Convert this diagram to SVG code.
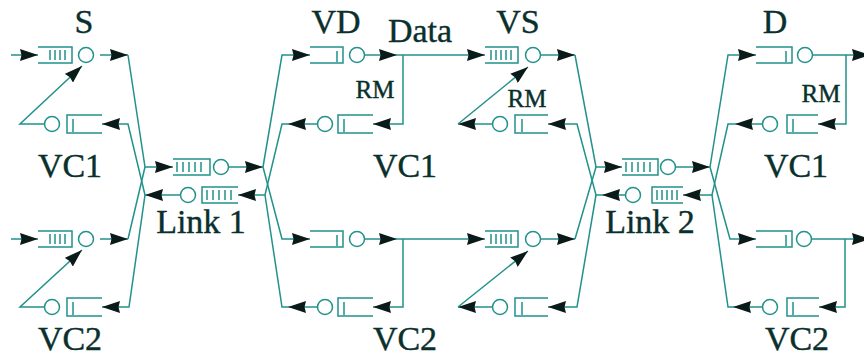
<svg xmlns="http://www.w3.org/2000/svg" width="864" height="360" viewBox="0 0 864 360">
<defs>
<marker id="ah" viewBox="0 0 18 12" refX="18" refY="6" markerWidth="18" markerHeight="12" markerUnits="userSpaceOnUse" orient="auto"><path d="M0,0 L18,6 L0,12 L1.5,6 z" fill="#0a1a19"/></marker>
</defs>
<style>
.ln{fill:none;stroke:#22918c;stroke-width:1.5}
.ar{marker-end:url(#ah)}
.q{fill:none;stroke:#22918c;stroke-width:1.5}
.srv{fill:#fff;stroke:#22918c;stroke-width:1.5}
.t{font-family:"Liberation Serif","Times New Roman",serif;fill:#0a302d;stroke:#0a302d;stroke-width:0.4;text-anchor:middle}
.big{font-size:34px}
.sm{font-size:25px}
</style>
<rect width="864" height="360" fill="#fff"/>
<g id="connectors">
<polyline class="ln ar" points="11,55 38,55"/>
<polyline class="ln ar" points="100,55 128,55"/>
<polyline class="ln ar" points="128,55 145,167 173,167"/>
<polyline class="ln ar" points="11,239 38,239"/>
<polyline class="ln ar" points="100,239 128,239"/>
<polyline class="ln" points="128,239 145,167"/>
<polyline class="ln ar" points="181,195 145,195"/>
<polyline class="ln ar" points="145,195 128,124 102,124"/>
<polyline class="ln ar" points="145,195 129,307 102,307"/>
<polyline class="ln ar" points="44,124 20,124 82,66"/>
<polyline class="ln ar" points="44,307 20,307 82,250"/>
<polyline class="ln ar" points="229,167 263,167"/>
<polyline class="ln ar" points="263,167 282,55 310,55"/>
<polyline class="ln ar" points="263,167 282,239 310,239"/>
<polyline class="ln ar" points="317,124 288,124"/>
<polyline class="ln ar" points="288,124 282,124 265,195 238,195"/>
<polyline class="ln ar" points="317,307 288,307"/>
<polyline class="ln" points="288,307 282,307 265,195"/>
<polyline class="ln ar" points="365,55 397,55"/>
<polyline class="ln ar" points="397,55 485,55"/>
<polyline class="ln ar" points="403,55 403,124 373,124"/>
<polyline class="ln ar" points="365,239 397,239"/>
<polyline class="ln ar" points="397,239 485,239"/>
<polyline class="ln ar" points="403,239 403,307 373,307"/>
<polyline class="ln ar" points="541,55 575,55"/>
<polyline class="ln ar" points="575,55 596,167 622,167"/>
<polyline class="ln ar" points="541,239 575,239"/>
<polyline class="ln" points="575,239 596,167"/>
<polyline class="ln ar" points="625,195 602,195"/>
<polyline class="ln ar" points="602,195 596,195 577,124 548,124"/>
<polyline class="ln ar" points="596,195 577,307 548,307"/>
<polyline class="ln ar" points="492,124 458,124"/>
<polyline class="ln ar" points="458,124 528,67"/>
<polyline class="ln ar" points="492,307 458,307"/>
<polyline class="ln ar" points="458,307 528,251"/>
<polyline class="ln ar" points="676,167 710,167"/>
<polyline class="ln ar" points="710,167 728,55 756,55"/>
<polyline class="ln ar" points="710,167 730,239 756,239"/>
<polyline class="ln ar" points="762,124 735,124"/>
<polyline class="ln ar" points="735,124 728,124 712,195 683,195"/>
<polyline class="ln ar" points="762,307 733,307"/>
<polyline class="ln" points="733,307 728,307 712,195"/>
<polyline class="ln ar" points="813,55 870,55"/>
<polyline class="ln ar" points="846,55 846,124 818,124"/>
<polyline class="ln ar" points="812,239 870,239"/>
<polyline class="ln ar" points="845,239 845,307 819,307"/>
</g>
<g id="s-vc1">
<path class="q" d="M38,47H72V63H38M50,50V60M55,50V60M60,50V60M65,50V60"/>
<circle class="srv" cx="86" cy="55" r="7.5"/>
<path class="q" d="M102,115H67V133H102M73,119V132"/>
<circle class="srv" cx="52" cy="124" r="7.5"/>
</g>
<g id="s-vc2">
<path class="q" d="M38,231H72V247H38M50,234V244M55,234V244M60,234V244M65,234V244"/>
<circle class="srv" cx="86" cy="239" r="7.5"/>
<path class="q" d="M102,298H67V316H102M73,302V315"/>
<circle class="srv" cx="52" cy="307" r="7.5"/>
</g>
<g id="link1">
<path class="q" d="M173,159H210V175H173M177,162V172M183,162V172M189,162V172M195,162V172M201,162V172"/>
<circle class="srv" cx="221" cy="167" r="7.5"/>
<path class="q" d="M238,187H202V203H238M207,190V200M213,190V200M219,190V200M225,190V200M231,190V200"/>
<circle class="srv" cx="188" cy="195" r="7.5"/>
</g>
<g id="vd-vc1">
<path class="q" d="M310,47H343V63H310M337,51V62"/>
<circle class="srv" cx="357" cy="55" r="7.5"/>
<path class="q" d="M373,115H338V133H373M344,119V132"/>
<circle class="srv" cx="325" cy="124" r="7.5"/>
</g>
<g id="vd-vc2">
<path class="q" d="M310,231H343V247H310M337,235V246"/>
<circle class="srv" cx="357" cy="239" r="7.5"/>
<path class="q" d="M373,298H338V316H373M344,302V315"/>
<circle class="srv" cx="325" cy="307" r="7.5"/>
</g>
<g id="vs-vc1">
<path class="q" d="M485,47H518V63H485M491,50V60M496,50V60M501,50V60M506,50V60M511,50V60"/>
<circle class="srv" cx="533" cy="55" r="7.5"/>
<path class="q" d="M548,115H515V133H548M522,119V132"/>
<circle class="srv" cx="500" cy="124" r="7.5"/>
</g>
<g id="vs-vc2">
<path class="q" d="M485,231H518V247H485M491,234V244M496,234V244M501,234V244M506,234V244M511,234V244"/>
<circle class="srv" cx="533" cy="239" r="7.5"/>
<path class="q" d="M548,298H515V316H548M522,302V315"/>
<circle class="srv" cx="500" cy="307" r="7.5"/>
</g>
<g id="link2">
<path class="q" d="M622,159H658V175H622M626,162V172M632,162V172M638,162V172M644,162V172M650,162V172"/>
<circle class="srv" cx="668" cy="167" r="7.5"/>
<path class="q" d="M683,187H652V203H683M657,190V200M662,190V200M667,190V200M672,190V200M677,190V200"/>
<circle class="srv" cx="633" cy="195" r="7.5"/>
</g>
<g id="d-vc1">
<path class="q" d="M756,47H792V63H756M786,51V62"/>
<circle class="srv" cx="805" cy="55" r="7.5"/>
<path class="q" d="M818,115H787V133H818M793,119V132"/>
<circle class="srv" cx="770" cy="124" r="7.5"/>
</g>
<g id="d-vc2">
<path class="q" d="M756,231H792V247H756M786,235V246"/>
<circle class="srv" cx="804" cy="239" r="7.5"/>
<path class="q" d="M819,298H787V316H819M793,302V315"/>
<circle class="srv" cx="770" cy="307" r="7.5"/>
</g>
<g id="labels">
<text class="t big" x="84" y="33">S</text>
<text class="t big" x="70" y="177">VC1</text>
<text class="t big" x="70" y="350">VC2</text>
<text class="t big" x="201" y="233">Link 1</text>
<text class="t big" x="336" y="33">VD</text>
<text class="t big" x="420" y="42">Data</text>
<text class="t big" x="518" y="33">VS</text>
<text class="t sm" x="375" y="98">RM</text>
<text class="t big" x="405" y="177">VC1</text>
<text class="t big" x="405" y="350">VC2</text>
<text class="t sm" x="527" y="107">RM</text>
<text class="t big" x="650" y="233">Link 2</text>
<text class="t big" x="775" y="33">D</text>
<text class="t sm" x="821" y="102">RM</text>
<text class="t big" x="796" y="177">VC1</text>
<text class="t big" x="797" y="350">VC2</text>
</g>
</svg>
